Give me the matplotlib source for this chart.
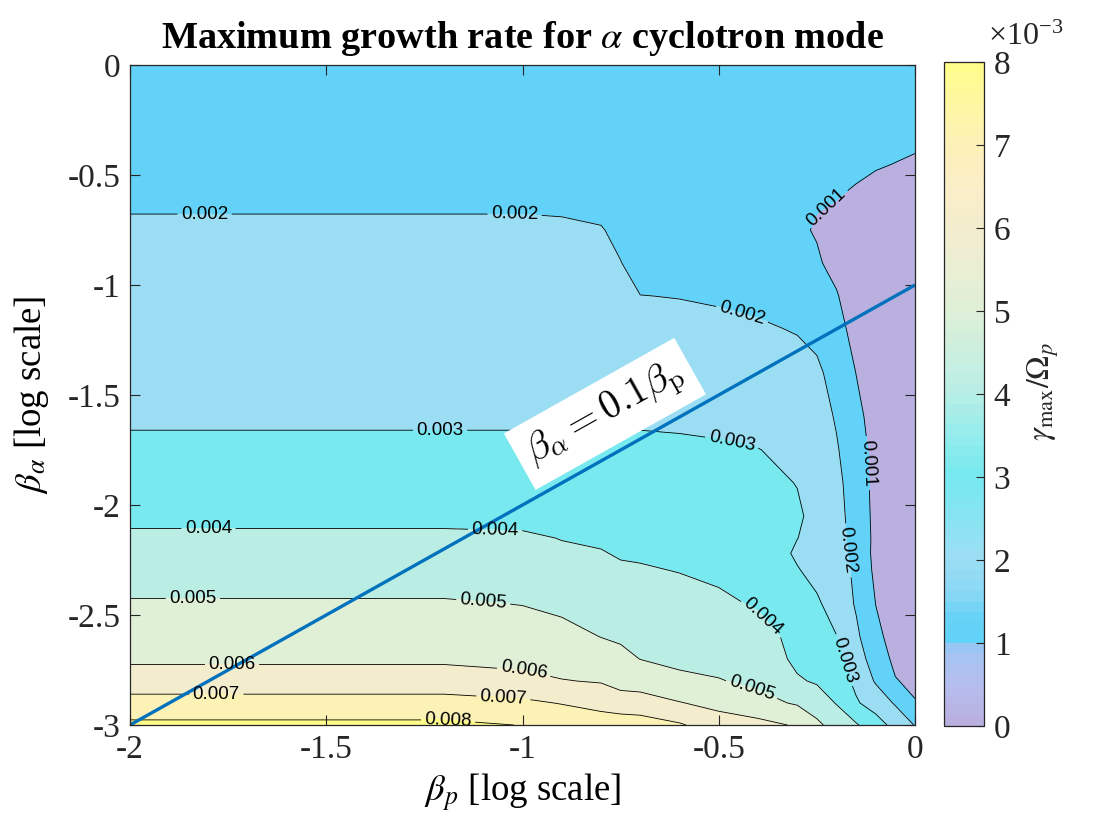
import numpy as np
import matplotlib
matplotlib.use("Agg")
import matplotlib.pyplot as plt
from matplotlib.colors import LinearSegmentedColormap, Normalize
from matplotlib.cm import ScalarMappable

plt.rcParams['font.family'] = ['Liberation Serif', 'DejaVu Serif']
plt.rcParams['mathtext.fontset'] = 'stix'
plt.rcParams['axes.unicode_minus'] = False

# log10(beta_p) across, log10(beta_alpha) down
beta_p_log = [-2.0, -1.2, -1.0, -0.9, -0.8, -0.75, -0.7, -0.6, -0.5, -0.4,
              -0.3, -0.25, -0.2, -0.15, -0.1, -0.05, 0.0]
beta_a_log = [0.0, -0.3, -0.45, -0.6, -0.75, -0.9, -1.05, -1.2, -1.4, -1.6,
              -1.75, -1.9, -2.05, -2.15, -2.22, -2.3, -2.45, -2.6, -2.7,
              -2.8, -2.9, -3.0]

# gamma_max / Omega_p, in units of 1e-3 (one row per beta_alpha)
gamma_e3 = [
    [1.5, 1.5, 1.5, 1.5, 1.5, 1.5, 1.5, 1.5, 1.5, 1.5, 1.5, 1.5, 1.5, 1.5, 1.4, 1.3, 1.3],
    [1.5, 1.5, 1.5, 1.5, 1.5, 1.5, 1.5, 1.5, 1.5, 1.5, 1.4, 1.4, 1.4, 1.3, 1.2, 1.2, 1.15],
    [1.6, 1.6, 1.6, 1.6, 1.6, 1.6, 1.6, 1.6, 1.5, 1.5, 1.3, 1.2, 1.2, 1.15, 1.05, 0.99, 0.93],
    [1.7, 1.7, 1.7, 1.7, 1.7, 1.7, 1.7, 1.6, 1.6, 1.5, 1.15, 1.05, 1.02, 0.9, 0.8, 0.8, 0.8],
    [2.28, 2.28, 2.28, 2.2, 2.05, 1.8, 1.7, 1.7, 1.6, 1.6, 1.1, 0.95, 0.8, 0.7, 0.6, 0.6, 0.6],
    [2.5, 2.5, 2.5, 2.5, 2.4, 2.02, 1.7, 1.7, 1.7, 1.6, 1.2, 1.08, 0.8, 0.6, 0.5, 0.5, 0.5],
    [2.5, 2.5, 2.5, 2.5, 2.5, 2.4, 2.01, 1.98, 1.9, 1.8, 1.5, 1.3, 1.05, 0.6, 0.5, 0.4, 0.4],
    [2.6, 2.6, 2.6, 2.6, 2.6, 2.5, 2.4, 2.2, 2.2, 2.1, 1.95, 1.7, 1.3, 0.7, 0.5, 0.4, 0.4],
    [2.7, 2.7, 2.7, 2.7, 2.7, 2.6, 2.6, 2.5, 2.5, 2.4, 2.3, 2.2, 1.6, 0.99, 0.6, 0.4, 0.4],
    [2.9, 2.9, 2.9, 2.9, 2.9, 2.9, 2.9, 2.9, 2.8, 2.7, 2.6, 2.5, 1.9, 1.2, 0.7, 0.5, 0.4],
    [3.15, 3.15, 3.15, 3.15, 3.15, 3.15, 3.15, 3.1, 3.1, 3.02, 2.8, 2.6, 2.1, 1.3, 0.8, 0.5, 0.4],
    [3.5, 3.5, 3.5, 3.5, 3.5, 3.4, 3.4, 3.4, 3.3, 3.2, 2.98, 2.7, 2.3, 1.4, 0.8, 0.5, 0.4],
    [3.8, 3.8, 3.8, 3.7, 3.7, 3.6, 3.6, 3.6, 3.5, 3.4, 3.1, 2.8, 2.4, 1.5, 0.8, 0.5, 0.4],
    [4.15, 4.15, 4.1, 3.98, 3.9, 3.8, 3.8, 3.7, 3.6, 3.5, 3.01, 2.8, 2.4, 1.6, 0.8, 0.5, 0.4],
    [4.3, 4.3, 4.3, 4.1, 4.04, 3.94, 3.9, 3.8, 3.7, 3.5, 2.9, 2.7, 2.4, 1.7, 0.75, 0.5, 0.4],
    [4.5, 4.5, 4.5, 4.3, 4.2, 4.1, 4.08, 3.98, 3.8, 3.6, 3.05, 2.8, 2.5, 1.8, 0.8, 0.5, 0.4],
    [5.1, 5.1, 4.98, 4.8, 4.6, 4.5, 4.4, 4.3, 4.2, 3.9, 3.3, 3.1, 2.7, 1.9, 0.99, 0.6, 0.5],
    [5.6, 5.6, 5.4, 5.3, 4.99, 4.9, 4.7, 4.6, 4.5, 4.4, 3.7, 3.4, 3.02, 2.2, 1.2, 0.7, 0.6],
    [5.9, 5.9, 5.8, 5.7, 5.5, 5.2, 4.99, 4.8, 4.7, 4.6, 3.8, 3.6, 3.3, 2.5, 1.5, 0.8, 0.7],
    [6.3, 6.3, 6.2, 6.03, 5.95, 5.7, 5.5, 5.2, 5.05, 4.8, 4.1, 3.9, 3.5, 2.8, 1.9, 1.05, 0.8],
    [7.47, 7.47, 7.2, 6.95, 6.5, 6.4, 6.5, 6.05, 5.7, 5.3, 4.9, 4.5, 3.95, 3.1, 2.6, 1.9, 1.05],
    [8.16, 8.16, 7.98, 7.8, 7.8, 7.6, 7.4, 7.1, 6.5, 6.3, 5.9, 5.2, 4.6, 4.1, 3.4, 2.7, 1.95],
]

fill_levels = [0, 1, 2, 3, 4, 5, 6, 7, 8, 9]
line_levels = [1, 2, 3, 4, 5, 6, 7, 8]

# beta_alpha = 0.1 beta_p
line_bp = [-2.0, 0.0]
line_ba = [-3.0, -1.0]

# colour stops of the colour bar (value in 1e-3, rgb)
cmap_stops = [0.0, 0.45, 0.8, 0.98, 1.0, 1.25, 1.6, 2.0, 2.5, 3.0, 3.5,
              4.0, 5.0, 6.0, 6.5, 7.0, 7.5, 8.0]
cmap_rgb = [(185, 176, 224), (182, 190, 238), (165, 196, 242), (140, 200, 247),
            (98, 210, 248), (102, 210, 247), (140, 216, 245), (156, 222, 244),
            (135, 228, 242), (118, 233, 240), (148, 236, 236), (184, 238, 230),
            (222, 240, 216), (243, 237, 206), (250, 238, 200), (252, 241, 185),
            (254, 246, 165), (255, 252, 140)]

# contour label spots
label_spots = [(-1.81, -0.678), (-1.02, -0.678), (-0.44, -1.13), (-0.24, -0.61),
               (-0.13, -1.81), (-1.21, -1.661), (-0.466, -1.707), (-0.186, -2.708),
               (-0.181, -2.208), (-1.80, -2.107), (-1.07, -2.13), (-0.384, -2.503),
               (-1.84, -2.421), (-1.10, -2.44), (-0.417, -2.845), (-1.74, -2.726),
               (-1.0, -2.78), (-1.78, -2.863), (-1.05, -2.92), (-1.19, -2.99)]

cmap = LinearSegmentedColormap.from_list(
    'growth', [(s / 8.0, tuple(c / 255.0 for c in rgb)) for s, rgb in zip(cmap_stops, cmap_rgb)],
    N=64)
fill_colors = [cmap(min(l, 8) / 8.0) for l in fill_levels[:-1]]

X, Y = np.meshgrid(beta_p_log, beta_a_log)
Z = np.array(gamma_e3)

fig = plt.figure(figsize=(11.2, 8.4), dpi=100)
ax = fig.add_axes([130 / 1120, 115 / 840, 785 / 1120, 660 / 840])
cax = fig.add_axes([944 / 1120, 114 / 840, 40 / 1120, 664 / 840])

ax.contourf(X, Y, Z, levels=fill_levels, colors=fill_colors)
cs = ax.contour(X, Y, Z, levels=line_levels, colors='k', linewidths=0.6)
labels = ax.clabel(cs, manual=label_spots, fontsize=13.5, inline=True,
                   inline_spacing=6, fmt=lambda v: '%.3f' % (v / 1000.0))
for t in labels:
    t.set_fontfamily('Liberation Sans')

ax.plot(line_bp, line_ba, color='#0072BD', lw=2.4, solid_capstyle='butt')
ax.text(-0.79, -1.586, r'$\beta_\alpha = 0.1\beta_{\rm p}$', math_fontfamily='cm',
        fontsize=28, rotation=29.3, rotation_mode='anchor', ha='center', va='center',
        bbox=dict(boxstyle='square,pad=0.28', fc='white', ec='none'), zorder=5)

ax.set_xlim(-2, 0)
ax.set_ylim(-3, 0)
ax.set_xticks([-2, -1.5, -1, -0.5, 0])
ax.set_xticklabels(['-2', '-1.5', '-1', '-0.5', '0'])
ax.set_yticks([-3, -2.5, -2, -1.5, -1, -0.5, 0])
ax.set_yticklabels(['-3', '-2.5', '-2', '-1.5', '-1', '-0.5', '0'])
ax.tick_params(direction='in', top=True, right=True, length=7, width=0.8,
               labelsize=24, colors='#262626', pad=7)
for s in ax.spines.values():
    s.set_color('#262626')
    s.set_linewidth(0.9)

ax.set_xlabel(r'$\beta_p$ [log scale]', fontsize=26.5, labelpad=4)
ax.set_ylabel(r'$\beta_\alpha$ [log scale]', fontsize=26.5, labelpad=12)
ax.set_title(r'Maximum growth rate for $\alpha$ cyclotron mode', fontsize=27.5,
             fontweight='bold', pad=12)

sm = ScalarMappable(norm=Normalize(0, 8), cmap=cmap)
cb = fig.colorbar(sm, cax=cax, ticks=range(9))
cb.outline.set_edgecolor('#262626')
cb.outline.set_linewidth(0.9)
cax.tick_params(direction='in', length=6, width=0.8, labelsize=24,
                colors='#262626', pad=7)
fig.text(988 / 1120, 1 - 45 / 840, r'×10$^{\mathregular{-3}}$', fontsize=23,
         color='#262626', ha='left', va='baseline')
fig.text(1043 / 1120, 1 - 392 / 840, r'$\gamma_{\rm max}/\mathit{\Omega}_p$', fontsize=23,
         rotation=90, ha='center', va='center', color='#262626')

fig.savefig('out.png', dpi=100)
